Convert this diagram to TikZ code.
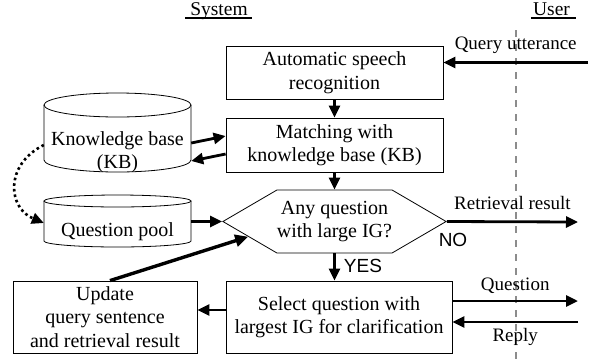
\documentclass[tikz,border=0pt]{standalone}
\usepackage{fontspec}
\setmainfont{Liberation Serif}
\setsansfont{Liberation Sans}
\usetikzlibrary{calc,arrows.meta,shapes.symbols}
\definecolor{ink}{HTML}{000000}
\definecolor{divider}{HTML}{8C8C8C}
\newcommand{\boxfont}{\fontsize{20}{23.5}\selectfont}
\newcommand{\lblfont}{\fontsize{19}{22}\selectfont}
\newcommand{\ansfont}{\sffamily\fontsize{19}{22}\selectfont}
% outline of a storage drum: left, right, top, bottom, end radius
\newcommand{\drum}[5]{%
  \draw[rim] (#1,#3-#5) -- (#1,#4+#5)
    arc[start angle=180, end angle=360, x radius={(#2-#1)/2}, y radius=#5]
    -- (#2,#3-#5);
  \draw[rim] ({(#1+#2)/2},#3-#5) ellipse[x radius={(#2-#1)/2}, y radius=#5];}
\tikzset{
  rim/.style={draw=ink, line width=0.8pt},
  box/.style={draw=ink, line width=0.8pt, align=center, inner sep=0pt, font=\boxfont},
  dbtext/.style={align=center, inner sep=0pt, minimum width=147pt, font=\boxfont},
  hexbox/.style={box, signal, signal to=west and east, signal pointer angle=60.5},
  lbl/.style={text=ink, font=\lblfont},
  ans/.style={text=ink, font=\ansfont},
  head/.style={text=ink, font=\fontsize{19.5}{22}\selectfont, inner sep=0pt},
  ul/.style={draw=ink, line width=1.2pt},
  arr/.style={draw=ink, line width=2.8pt, -{Triangle[length=12pt,width=11pt]}},
  feed/.style={draw=ink, line width=3.4pt, -{Triangle[length=13pt,width=12pt]}},
  dotarr/.style={draw=ink, line width=2.6pt, dash pattern=on 2.6pt off 3pt, -{Triangle[length=12pt,width=11pt]}},
  divline/.style={draw=divider, line width=1.2pt, dash pattern=on 7pt off 7pt}
}

\begin{document}
\begin{tikzpicture}[x=1pt, y=1pt]
  \useasboundingbox (0,0) rectangle (595,-360);

  % column heads and the system/user divide
  \node[head, anchor=base] (sys) at (219,-15.5) {System};
  \node[head, anchor=base] (usr) at (551.5,-15.5) {User};
  \draw[ul] ([xshift=-5pt,yshift=-2.5pt]sys.base west) -- ([xshift=4pt,yshift=-2.5pt]sys.base east);
  \draw[ul] ([xshift=-2pt,yshift=-2.5pt]usr.base west) -- ([xshift=6pt,yshift=-2.5pt]usr.base east);
  \coordinate (D1) at (516,-30);
  \coordinate (D2) at (516,-360);
  \draw[divline] (D1) -- (D2);

  % main flow
  \node[box, minimum width=217pt, minimum height=53pt] (asr) at (334.5,-72.5)
    {Automatic speech\\recognition};
  \node[box, minimum width=217pt, minimum height=54pt] (match) at (334.5,-145)
    {Matching with\\knowledge base (KB)};
  \node[hexbox, minimum width=217pt, minimum height=63pt] (hex) at (334.5,-221.5)
    {Any question\\with large IG?};
  \node[box, minimum width=226pt, minimum height=72pt] (select) at (339,-317)
    {Select question with\\largest IG for clarification};
  \node[box, minimum width=184pt, minimum height=72pt] (update) at (105,-317)
    {Update\\query sentence\\and retrieval result};

  % stores
  \drum{44}{191}{-93}{-172}{12}
  \drum{44}{191}{-195}{-247}{6}
  \node[dbtext] (kb) at (117.5,-152) {Knowledge base\\(KB)};
  \node[dbtext] (pool) at (117.5,-232) {Question pool};

  % user side ends
  \coordinate (Q0) at (588,-62.5);
  \coordinate (R1) at (578,-222);
  \coordinate (Q1) at (578,-301);
  \coordinate (A1) at (578,-322);

  \draw[arr] (Q0) -- node[lbl, above=4pt] {Query utterance} ([yshift=10pt]asr.east);
  \draw[arr] (asr) -- (match);
  \draw[arr] (match) -- (hex);
  \draw[arr] (hex.south) -- (hex.south |- select.north);
  \draw[arr] ([yshift=9pt]kb.east) -- ([yshift=9pt]match.west);
  \draw[arr] ([yshift=-9pt]match.west) -- ([yshift=-9pt]kb.east);
  \draw[arr] (pool.east |- hex.west) -- (hex.west);
  \draw[arr] (hex.east) -- node[lbl, above=7pt] {Retrieval result} (R1);
  \draw[arr] ([yshift=16pt]select.east) -- node[lbl, above=3pt] {Question} (Q1);
  \draw[arr] (A1) -- node[lbl, below=2pt] {Reply} ([yshift=-5pt]select.east);
  \draw[arr] ([yshift=7pt]select.west) -- ([yshift=7pt]update.east);
  \draw[feed] ([xshift=5pt]update.north) -- (hex.190);
  \draw[dotarr] ([yshift=7pt]kb.west) .. controls (4,-165) and (8,-208) .. ([yshift=9pt]pool.west);

  \node[ans] (no) at (453,-240) {NO};
  \node[ans] (yes) at (363,-266) {YES};
\end{tikzpicture}
\end{document}
